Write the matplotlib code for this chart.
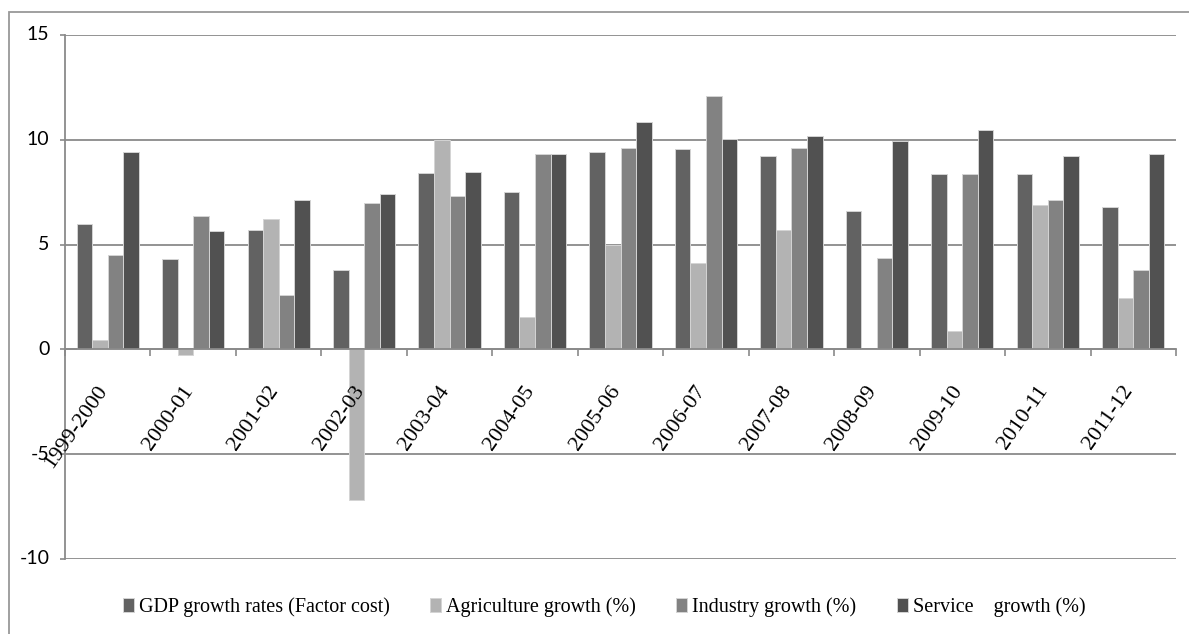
import matplotlib
matplotlib.use("Agg")
import matplotlib.pyplot as plt
import numpy as np
from matplotlib.patches import Rectangle

categories = ["1999-2000", "2000-01", "2001-02", "2002-03", "2003-04", "2004-05",
              "2005-06", "2006-07", "2007-08", "2008-09", "2009-10", "2010-11", "2011-12"]
gdp = [6.0, 4.3, 5.7, 3.8, 8.4, 7.5, 9.4, 9.55, 9.25, 6.6, 8.35, 8.35, 6.8]
agriculture = [0.45, -0.25, 6.2, -7.2, 10.0, 1.55, 5.0, 4.1, 5.7, 0.0, 0.9, 6.9, 2.45]
industry = [4.5, 6.35, 2.6, 7.0, 7.3, 9.3, 9.6, 12.1, 9.6, 4.35, 8.35, 7.15, 3.8]
service = [9.4, 5.65, 7.15, 7.4, 8.45, 9.3, 10.85, 10.05, 10.2, 9.95, 10.45, 9.25, 9.3]

series_labels = ["GDP growth rates (Factor cost)", "Agriculture growth (%)",
                 "Industry growth (%)", "Service    growth (%)"]
colors = ["#626262", "#b3b3b3", "#828282", "#515151"]
yticks = [-10, -5, 0, 5, 10, 15]

W, H = 1189, 634
fig = plt.figure(figsize=(W / 100, H / 100), dpi=100)
ax = fig.add_axes([65 / W, 1 - 559 / H, (1176 - 65) / W, (559 - 35) / H])

grid_c = "#8a8a8a"
x = np.arange(len(categories))
w = 0.182
handles = []
for j, (vals, c, lab) in enumerate(zip([gdp, agriculture, industry, service], colors, series_labels)):
    b = ax.bar(x + (j - 1.5) * w, vals, width=w, color=c, edgecolor="#d4d4d4",
               linewidth=0.7, label=lab, zorder=3)
    handles.append(b)

ax.set_xlim(-0.5, len(categories) - 0.5)
ax.set_ylim(-10, 15)
ax.set_yticks(yticks)
ax.set_yticklabels([str(v) for v in yticks], fontfamily="Lato", fontsize=14)
for t in ax.get_yticklabels():
    t.set_verticalalignment("center")
ax.yaxis.grid(True, color=grid_c, linewidth=1.3, zorder=0)
ax.set_axisbelow(True)

for s in ["top", "right"]:
    ax.spines[s].set_visible(False)
ax.spines["left"].set_color(grid_c)
ax.spines["left"].set_linewidth(1.3)
ax.spines["bottom"].set_position(("data", 0))
ax.spines["bottom"].set_color(grid_c)
ax.spines["bottom"].set_linewidth(1.3)
ax.spines["bottom"].set_zorder(4)

ax.set_xticks(np.arange(-0.5, len(categories), 1.0))
ax.set_xticklabels([])
ax.tick_params(axis="x", direction="out", length=5, width=1.2, color=grid_c)
ax.tick_params(axis="y", direction="out", length=3.6, width=1.2, color=grid_c, pad=7.5)

for i, lab in enumerate(categories):
    ax.annotate(lab, xy=(i, 0), xycoords="data", xytext=(4, -33), textcoords="offset pixels",
                rotation=55, ha="right", va="top", fontfamily="Liberation Serif",
                fontsize=16, color="black", annotation_clip=False)

leg = fig.legend(handles=handles, labels=series_labels, loc="center",
                 bbox_to_anchor=(604 / W, 1 - 607 / H), ncol=4, frameon=False,
                 prop={"family": "Liberation Serif", "size": 14.5},
                 handlelength=0.55, handleheight=0.65, handletextpad=0.25,
                 columnspacing=2.0, borderpad=0)

# outer chart border (only top and left visible)
fig.patches.append(Rectangle((9 / W, -0.05), 1.1, 1 - 11.7 / H + 0.05, transform=fig.transFigure,
                             fill=False, edgecolor="#999999", linewidth=1.3))

fig.savefig("out.png", dpi=100, facecolor="white")
